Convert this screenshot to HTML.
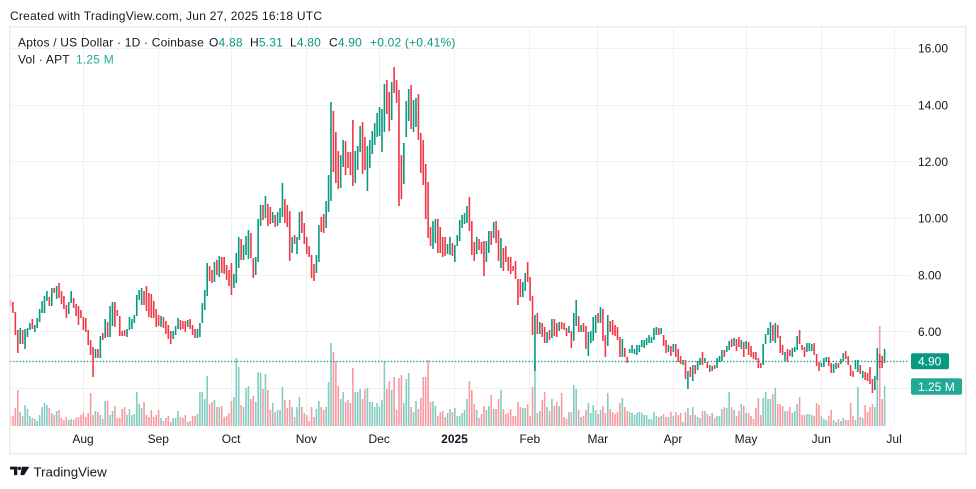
<!DOCTYPE html>
<html><head><meta charset="utf-8">
<style>
html,body{margin:0;padding:0;background:#fff;}
body{width:976px;height:489px;overflow:hidden;position:relative;}
svg{position:absolute;left:0;top:0;}
text{font-family:"Liberation Sans",Arial,sans-serif;}
</style></head><body>
<svg id="c" width="976" height="489" viewBox="0 0 976 489" xmlns="http://www.w3.org/2000/svg">
<rect width="976" height="489" fill="#ffffff"/>
<g stroke="#f0f0f0" stroke-width="1">
<line x1="10" x2="910" y1="48.5" y2="48.5"/>
<line x1="10" x2="910" y1="105.5" y2="105.5"/>
<line x1="10" x2="910" y1="161.5" y2="161.5"/>
<line x1="10" x2="910" y1="218.5" y2="218.5"/>
<line x1="10" x2="910" y1="275.5" y2="275.5"/>
<line x1="10" x2="910" y1="331.5" y2="331.5"/>
<line x1="10" x2="910" y1="388.5" y2="388.5"/>
<line x1="83.5" x2="83.5" y1="27" y2="426"/>
<line x1="158.5" x2="158.5" y1="27" y2="426"/>
<line x1="231.5" x2="231.5" y1="27" y2="426"/>
<line x1="306.5" x2="306.5" y1="27" y2="426"/>
<line x1="379.5" x2="379.5" y1="27" y2="426"/>
<line x1="454.5" x2="454.5" y1="27" y2="426"/>
<line x1="529.5" x2="529.5" y1="27" y2="426"/>
<line x1="597.5" x2="597.5" y1="27" y2="426"/>
<line x1="673.5" x2="673.5" y1="27" y2="426"/>
<line x1="746.5" x2="746.5" y1="27" y2="426"/>
<line x1="821.5" x2="821.5" y1="27" y2="426"/>
<line x1="894.5" x2="894.5" y1="27" y2="426"/>
</g>
<g id="vol"></g>
<line x1="10" x2="908" y1="361.5" y2="361.5" stroke="#089981" stroke-width="1.3" stroke-dasharray="1.4 1.8"/>
<g id="cd"></g>
<rect x="9.75" y="26.75" width="956" height="427" fill="none" stroke="#ebebeb" stroke-width="1.5"/>

<text x="10" y="20" font-size="12" fill="#131722" letter-spacing="0.25">Created with TradingView.com, Jun 27, 2025 16:18 UTC</text>

<g font-size="12" fill="#131722" letter-spacing="0.2">
<text x="18" y="46.5">Aptos / US Dollar · 1D · Coinbase</text>
<text x="209" y="46.5">O<tspan fill="#089981">4.88</tspan></text>
<text x="250" y="46.5">H<tspan fill="#089981">5.31</tspan></text>
<text x="290" y="46.5">L<tspan fill="#089981">4.80</tspan></text>
<text x="329" y="46.5">C<tspan fill="#089981">4.90</tspan></text>
<text x="370" y="46.5" fill="#089981">+0.02 (+0.41%)</text>
<text x="18" y="63.3">Vol · APT</text>
<text x="76" y="63.3" fill="#22ab94">1.25 M</text>
</g>

<g font-size="12" fill="#131722">
<text x="918" y="52.6">16.00</text>
<text x="918" y="109.3">14.00</text>
<text x="918" y="166">12.00</text>
<text x="918" y="222.6">10.00</text>
<text x="918" y="279.3">8.00</text>
<text x="918" y="336">6.00</text>
</g>
<rect x="911" y="353.3" width="38" height="16" rx="2" fill="#089981"/>
<text x="918" y="365.6" font-size="12" fill="#ffffff">4.90</text>
<rect x="911" y="378.3" width="51" height="16.4" rx="2" fill="#22ab94"/>
<text x="918" y="390.8" font-size="12" fill="#ffffff">1.25 M</text>

<g font-size="12" fill="#131722" text-anchor="middle">
<text x="83" y="443">Aug</text>
<text x="158.3" y="443">Sep</text>
<text x="231.1" y="443">Oct</text>
<text x="306.4" y="443">Nov</text>
<text x="379.2" y="443">Dec</text>
<text x="454.5" y="443" font-weight="bold">2025</text>
<text x="529.8" y="443">Feb</text>
<text x="597.8" y="443">Mar</text>
<text x="673" y="443">Apr</text>
<text x="746" y="443">May</text>
<text x="821.3" y="443">Jun</text>
<text x="894.1" y="443">Jul</text>
</g>

<g fill="#131722">
<rect x="10" y="466.7" width="7.3" height="2.8"/>
<rect x="14" y="466.7" width="3.3" height="8.4"/>
<circle cx="19.4" cy="468.4" r="1.7"/>
<polygon points="21.8,466.7 29.3,466.7 24.2,475.1 20.4,475.1"/>
</g>
<text x="33.5" y="476.7" font-size="13.3" fill="#131722">TradingView</text>
</svg>
<script>
(function(){
var NS="http://www.w3.org/2000/svg";
var D=[
[300,306,0],[302,313,0],[312,335,0],[330,353,0],[328,344,1],[330,344,0],[329,349,1],[328,337,1],[323,330,1],[319,329,0],
[325,332,1],[318,328,1],[309,322,1],[301,313,1],[296,313,1],[291,301,1],[297,306,0],[288,306,1],[288,293,0],[286,299,1],
[283,298,0],[291,304,0],[296,309,0],[305,318,0],[302,314,1],[291,303,1],[298,308,0],[304,316,0],[306,325,0],[310,318,0],
[317,330,0],[318,332,0],[330,345,0],[340,355,0],[347,377,0],[349,358,1],[349,358,0],[336,358,1],[333,340,0],[319,338,1],
[322,337,0],[306,337,1],[302,326,1],[302,327,0],[310,316,0],[316,336,0],[331,336,0],[330,336,0],[329,337,1],[317,330,1],
[319,329,1],[315,323,1],[295,316,1],[290,300,1],[288,305,1],[291,305,0],[286,311,0],[293,317,0],[294,318,0],[301,318,0],
[309,327,0],[315,326,0],[316,327,1],[317,328,0],[321,334,0],[325,339,0],[331,344,0],[331,339,1],[326,335,1],[318,329,1],
[320,330,0],[321,329,0],[321,332,0],[320,327,1],[319,329,0],[325,335,0],[329,338,0],[329,338,1],[323,337,1],[303,323,1],
[290,310,1],[263,296,1],
[266,281,0],[270,283,0],[262,282,1],[260,275,0],[256,277,1],[257,273,0],[257,274,0],[265,280,0],
[270,286,0],[263,295,0],[274,288,1],[253,283,1],[237,268,1],[239,260,0],[245,260,1],[236,255,1],[230,259,1],[233,258,0],
[258,278,0],[257,275,1],[219,262,1],[205,226,1],[205,220,0],[196,218,1],[204,226,0],[207,224,0],[212,223,1],[215,227,0],
[212,226,1],[208,223,1],[183,217,1],[199,223,0],[205,227,0],[211,261,0],[237,253,1],[235,244,0],[237,254,1],[212,240,1],
[211,233,0],[223,244,0],[237,254,0],[246,257,0],[255,278,0],[264,281,0],[255,273,1],[225,262,1],[217,232,0],[214,233,0],
[201,228,1],[175,212,1],[102,201,1],[111,172,0],[132,183,0],[151,189,0],[155,188,1],[140,167,1],[141,175,0],[152,168,0],
[152,175,0],[120,186,0],[151,183,1],[146,170,1],[126,152,1],[122,174,0],[137,170,0],[146,191,1],[140,168,1],[131,154,1],
[123,145,1],[113,137,1],[107,136,1],[109,152,1],[84,132,1],[80,114,0],[92,131,0],[82,120,1],[67,93,0],[80,103,0],
[90,206,0],[155,199,0],[143,184,1],[101,137,1],[89,121,1],[85,129,0],[100,132,1],[98,127,1],[94,140,0],[133,173,0],
[140,185,0],[164,219,0],[182,238,0],[227,246,0],[221,249,1],[219,243,1],[219,253,0],[227,253,0],[237,257,0],[237,256,0],
[244,254,1],[237,255,1],[243,256,0],[245,262,1],[235,246,1],[220,241,1],[215,228,1],[213,224,1],[206,223,1],[197,231,0],
[221,255,0],[242,261,0],[237,254,1],[239,250,0],[242,254,0],[241,276,0],[241,262,1],[231,253,1],[231,245,0],[222,238,1],
[221,243,0],[230,261,0],[238,268,1],[248,271,0],[246,262,0],[257,271,0],[257,274,0],[266,271,0],[261,279,0],[279,305,0],
[279,297,0],[282,297,1],[273,291,1],[262,282,0],[277,301,0],[296,335,0],[315,371,1],[313,334,0],[322,334,1],[323,337,0],
[327,343,0],[332,343,1],[330,340,0],[319,338,1],[319,336,0],[323,337,0],[322,331,1],[322,329,0],[323,330,0],[328,336,0],
[326,333,1],[331,348,0],[313,341,1],[300,326,1],[316,332,0],[325,332,1],[323,332,0],[326,349,0],[332,356,1],[331,343,1],
[317,341,1],[315,333,1],[313,323,0],[307,323,1],[309,341,0],[335,357,0],[315,346,1],[321,332,0],[320,335,0],[325,336,0],
[327,340,0],[337,357,0],[339,357,1],[348,357,0],[357,363,0],[349,353,1],[345,353,1],[349,354,1],[345,355,1],[345,352,1],
[340,347,1],[340,348,1],[338,345,1],[335,343,1],[337,343,1],[328,340,1],[327,335,1],[328,335,0],[328,334,1],[335,346,0],
[340,353,0],[345,352,1],[346,356,0],[344,352,1],[344,357,0],[349,362,0],[356,364,0],[360,365,1],[360,379,0],[371,389,1],
[367,377,0],[365,381,1],[365,374,0],[361,370,1],[358,365,1],[352,365,0],[358,363,1],[362,368,0],[365,372,0],[366,371,1],
[365,369,0],[358,368,1],[356,362,1],[350,361,1],[350,357,0],[346,352,1],[341,350,1],[339,347,0],[338,346,1],[339,351,0],
[337,347,0],[340,349,1],[342,357,0],[341,349,1],[342,355,0],[346,357,0],[352,359,0],[352,360,0],[358,368,0],[363,368,0],
[344,365,1],[334,344,1],[328,335,1],[322,343,1],[325,341,0],[323,343,1],[325,338,0],[336,353,0],[345,355,0],[352,361,1],
[349,362,0],[350,356,0],[348,357,1],[347,352,1],[336,350,1],[330,344,0],[345,350,0],[347,357,0],[343,352,1],[343,351,1],
[344,351,1],[343,355,0],[354,366,0],[362,371,0],[363,367,1],[358,367,1],[357,362,1],[357,366,0],[363,373,0],[364,373,1],
[363,369,1],[363,368,0],[359,364,1],[353,361,1],[351,359,0],[356,365,0],[365,376,0],[371,377,0],[360,369,1],[360,372,1],
[365,374,0],[371,378,1],[372,380,0],[373,381,0],[367,384,0],[379,393,0],[376,390,1],[348,380,1],[354,368,0],[356,368,0],
[349,363,1]
];
var V0=[415,416,408,390,412,416,405,409,416,418,419,421,415,407,403,405,408,413,415,411,410,418,420,417,420,419,420,418,417,415,413,417,413,393,415,411,412,415,419,401,401,415,411,406,418,418,409,407,415,409,415,414,392,404,408,402,415,417,410,417,415,410,418,421,418,416,422,418,418,411,417,418,415,422,421,416,416,414,392,376];
var VZ=[
[200,[[7,392],[13,399],[22,376],[28,404],[34,402],[43,400],[49,407],[58,407],[64,406],[73,417],[79,416],[85,413],[94,401],[100,397],[109,358],[115,367],[124,405],[130,407],[136,388],[145,386],[151,399],[160,396],[166,402],[175,372],[181,373],[187,389],[196,374],[202,390],[211,410],[217,403],[226,412],[232,410],[238,410],[247,387],[253,400],[262,408],[268,400],[277,407],[283,417],[289,407],[298,397],[304,407],[313,413],[319,415],[328,421],[334,407],[340,417],[349,409],[355,401],[364,407],[370,410],[379,407],[385,382],[391,343],[400,352],[406,361],[415,386],[421,399],[430,392],[436,402],[445,400],[451,403],[457,368],[466,392],[472,392],[481,389],[487,399],[493,389],[502,388],[508,402],[517,402],[523,407],[532,403],[538,407],[544,400],[553,361],[559,389],[568,381],[574,390],[580,377],[589,410],[595,378],[601,375],[610,403],[616,379],[625,373],[631,407],[640,412],[646,401],[655,409],[661,398],[670,377],[676,377],[685,360],[691,402],[697,401],[706,406],[712,416]]],
[430,[[2,402],[7,401],[13,406],[22,416],[31,412],[37,411],[46,417],[52,413],[58,409],[67,412],[73,408],[82,416],[88,416],[97,413],[103,410],[109,399],[118,381],[124,390],[133,404],[139,410],[148,418],[154,414],[160,406],[169,410],[175,406],[184,395],[190,409],[199,409],[205,399],[211,390],[220,409],[226,414],[232,413],[241,409],[247,416],[256,416],[262,402],[271,407],[277,408],[286,408],[292,404],[301,416],[307,387],[313,363],[322,413],[328,411],[337,400],[343,392],[352,407],[358,411],[364,399],[373,406],[379,402],[388,406],[394,393],[403,417],[409,419],[418,412],[424,412],[430,385],[439,389],[445,410],[454,417],[460,416],[466,410],[475,403],[481,413],[490,405],[496,410],[505,414],[511,410],[520,406],[526,413],[532,393],[541,409],[547,412],[556,414],[562,412],[568,403],[577,398],[583,407],[592,411],[598,412],[607,413],[613,415],[619,413],[628,412],[634,413],[643,415],[649,415],[658,419],[664,419],[670,412],[679,416],[685,417],[694,416],[700,414],[709,417],[715,418]]],
[660,[[4,416],[10,414],[19,417],[25,417],[31,412],[40,416],[46,412],[55,415],[61,413],[70,422],[76,412],[85,408],[91,415],[97,407],[106,415],[112,417],[121,418],[127,411],[133,411],[142,414],[148,416],[157,413],[163,418],[172,416],[178,416],[187,409],[193,407],[199,408],[208,392],[214,407],[220,410],[229,416],[235,411],[244,404],[250,406],[259,413],[265,413],[271,416],[280,419],[286,408],[295,398],[301,415],[310,398],[316,392],[325,399],[331,399],[337,394],[346,388],[352,404],[358,404],[367,406],[373,411],[379,411],[388,407],[394,413],[403,411],[409,404],[418,397],[424,415],[430,415],[439,414],[445,417],[451,414],[460,414],[466,416],[472,403],[478,405],[484,416],[493,419],[499,420],[508,416],[514,410],[520,420],[529,422],[535,419],[541,421],[550,418],[556,420],[565,420],[571,403],[580,416],[586,420],[592,387],[601,417],[607,418],[616,405],[622,412],[631,407],[637,404],[646,407],[652,348],[658,326],[667,399],[673,386]]]
];
var N=D.length, vol=new Array(N), i;
for(i=0;i<V0.length&&i<N;i++) vol[i]=V0[i];
VZ.forEach(function(z){var ox=z[0];z[1].forEach(function(p){var k=Math.round((ox+p[0]/3-10.5)/2.428);if(k>=0&&k<N)vol[k]=p[1];});});
for(i=0;i<N;i++){ if(vol[i]===undefined){ var a=i-1,b=i+1; while(a>=0&&vol[a]===undefined)a--; while(b<N&&vol[b]===undefined)b++; var va=a>=0?vol[a]:412, vb=b<N?vol[b]:412; vol[i]=(va+vb)/2; } }
var gv=document.getElementById('vol'), gc=document.getElementById('cd');
function rect(g,x,y,w,h,f,op){var r=document.createElementNS(NS,'rect');r.setAttribute('x',x.toFixed(2));r.setAttribute('y',y.toFixed(2));r.setAttribute('width',w);r.setAttribute('height',Math.max(h,1).toFixed(2));r.setAttribute('fill',f);if(op)r.setAttribute('opacity',op);g.appendChild(r);}
for(i=0;i<N;i++){
  var x=10.5+i*2.428, d=D[i], g=d[2]===1;
  rect(gv,x-0.8,vol[i],1.6,426-vol[i],g?'#84ccc0':'#f89aa2', i===0?0.6:null);
  rect(gc,x-0.8,d[0],1.6,d[1]-d[0],g?'#089981':'#f23645', i===0?0.55:null);
}
})();
</script>
</body></html>
